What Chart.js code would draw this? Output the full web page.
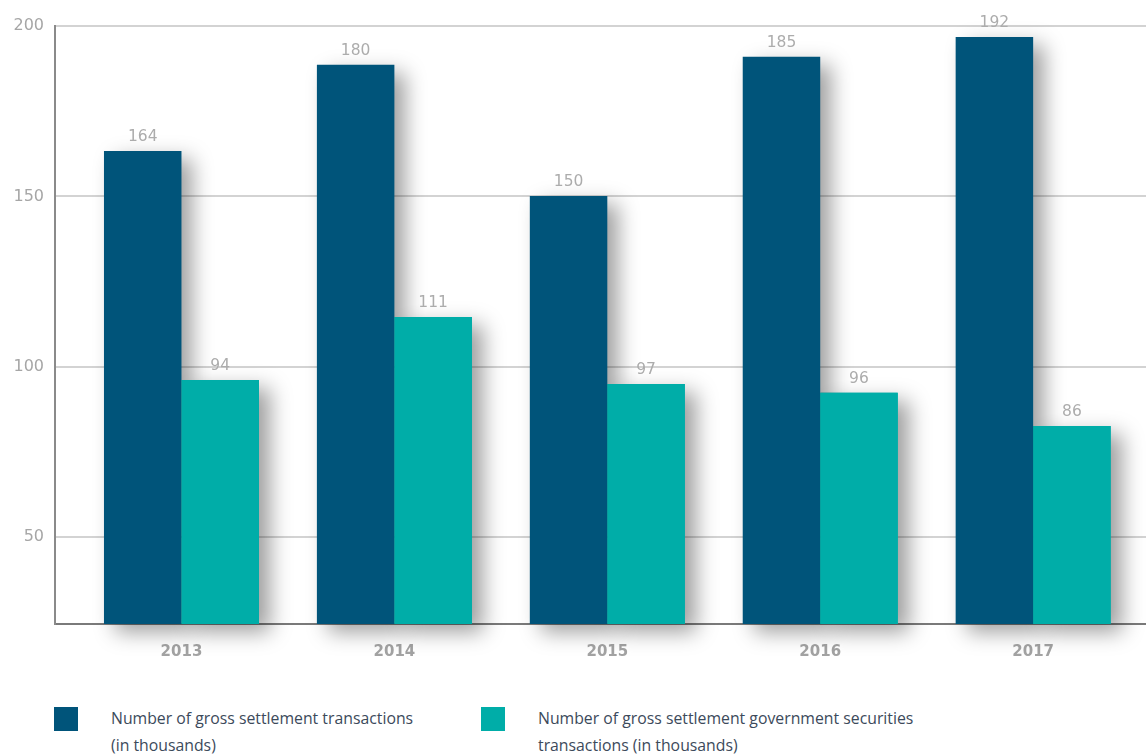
<!DOCTYPE html>
<html lang="en">
<head>
  <meta charset="UTF-8">
  <title>Gross settlement transactions</title>
  <script src="https://cdn.jsdelivr.net/npm/chart.js"></script>
  <style>
    body {
      margin: 0;
      background: #ffffff;
    }
    #wrap {
      position: relative;
      width: 1146px;
      height: 755px;
    }
    #legend {
      position: absolute;
      left: 0;
      top: 707px;
      width: 1146px;
    }
    .item {
      position: absolute;
      top: 0;
    }
    .swatch {
      position: absolute;
      top: 0;
      width: 24px;
      height: 24px;
    }
    .label {
      position: absolute;
      top: -2px;
      left: 57px;
      color: #3c4a5b;
      font-family: "Open Sans", sans-serif;
      font-size: 15.8px;
      line-height: 27px;
      white-space: nowrap;
    }
  </style>
</head>
<body>
  <div id="wrap">
    <canvas id="chart" width="1146" height="670"></canvas>
    <div id="legend">
      <div class="item" style="left:54px">
        <div class="swatch" style="background:#00547a"></div>
        <div class="label">Number of gross settlement transactions<br>(in thousands)</div>
      </div>
      <div class="item" style="left:481px">
        <div class="swatch" style="background:#00ada8"></div>
        <div class="label">Number of gross settlement government securities<br>transactions (in thousands)</div>
      </div>
    </div>
  </div>

  <script>
    // years on the x axis
    const years = ['2013', '2014', '2015', '2016', '2017'];

    // bar heights (in thousands)
    const settlementBars = [163.3, 188.6, 150.1, 191.0, 196.8];
    const securitiesBars = [96.1, 114.6, 94.9, 92.4, 82.6];

    // numbers printed above the bars
    const settlementLabels = ['164', '180', '150', '185', '192'];
    const securitiesLabels = ['94', '111', '97', '96', '86'];

    // value axis: starts a bit under 25, gridlines every 50
    const yMin = 24.5;
    const yMax = 200;
    const yTicks = [50, 100, 150, 200];

    // soft drop shadow behind bars + value labels on top
    const barExtras = {
      id: 'barExtras',
      beforeDatasetsDraw(chart) {
        const ctx = chart.ctx;
        ctx.save();
        ctx.shadowColor = 'rgba(0, 0, 0, 0.38)';
        ctx.shadowBlur = 20;
        ctx.shadowOffsetX = 11;
        ctx.shadowOffsetY = 8;
      },
      afterDatasetsDraw(chart) {
        const ctx = chart.ctx;
        ctx.restore();
        // chart.js paints the first dataset last, so its shadow lands on the
        // teal bars -- paint the teal bars once more without a shadow
        chart.getDatasetMeta(1).data.forEach(bar => bar.draw(ctx));

        ctx.save();
        ctx.font = '15.5px "DejaVu Sans", sans-serif';
        ctx.fillStyle = '#acacac';
        ctx.textAlign = 'center';
        ctx.textBaseline = 'middle';
        chart.data.datasets.forEach((ds, i) => {
          const meta = chart.getDatasetMeta(i);
          meta.data.forEach((bar, j) => {
            ctx.fillText(ds.valueLabels[j], bar.x, bar.y - 14);
          });
        });
        ctx.restore();
      }
    };

    const ctx = document.getElementById('chart').getContext('2d');
    new Chart(ctx, {
      type: 'bar',
      data: {
        datasets: [{
          label: 'Number of gross settlement transactions (in thousands)',
          data: settlementBars.map((v, i) => ({ x: i, y: v })),
          valueLabels: settlementLabels,
          backgroundColor: '#00547a',
          base: yMin,
          categoryPercentage: 0.728,
          barPercentage: 1.0,
          clip: false
        }, {
          label: 'Number of gross settlement government securities transactions (in thousands)',
          data: securitiesBars.map((v, i) => ({ x: i, y: v })),
          valueLabels: securitiesLabels,
          backgroundColor: '#00ada8',
          base: yMin,
          categoryPercentage: 0.728,
          barPercentage: 1.0,
          clip: false
        }]
      },
      options: {
        responsive: false,
        animation: false,
        layout: { padding: { top: 26, right: 0, left: 0, bottom: 0 } },
        plugins: {
          legend: { display: false },
          tooltip: { enabled: false }
        },
        scales: {
          x: {
            type: 'linear',
            offset: false,
            min: -0.594,
            max: 4.53,
            grid: { display: false, offset: false },
            border: { display: true, color: '#7a7a7a', width: 2 },
            ticks: {
              stepSize: 1,
              includeBounds: false,
              autoSkip: false,
              maxRotation: 0,
              padding: 11,
              color: '#a3a3a3',
              font: { family: '"DejaVu Sans", sans-serif', size: 15, weight: 'bold' },
              callback: (v) => Number.isInteger(v) && years[v] !== undefined ? years[v] : ''
            },
            afterFit: (scale) => { scale.height = 46; }
          },
          y: {
            min: yMin,
            max: yMax,
            beginAtZero: false,
            grid: { color: '#d3d3d3', lineWidth: 2, drawTicks: false },
            border: { display: true, color: '#8a8a8a', width: 2 },
            afterBuildTicks: (scale) => {
              scale.ticks = yTicks.map(v => ({ value: v }));
            },
            ticks: {
              padding: 11,
              color: '#a6a6a6',
              font: { family: '"DejaVu Sans", sans-serif', size: 16 }
            },
            afterFit: (scale) => { scale.width = 55; }
          }
        }
      },
      plugins: [barExtras]
    });
  </script>
</body>
</html>
